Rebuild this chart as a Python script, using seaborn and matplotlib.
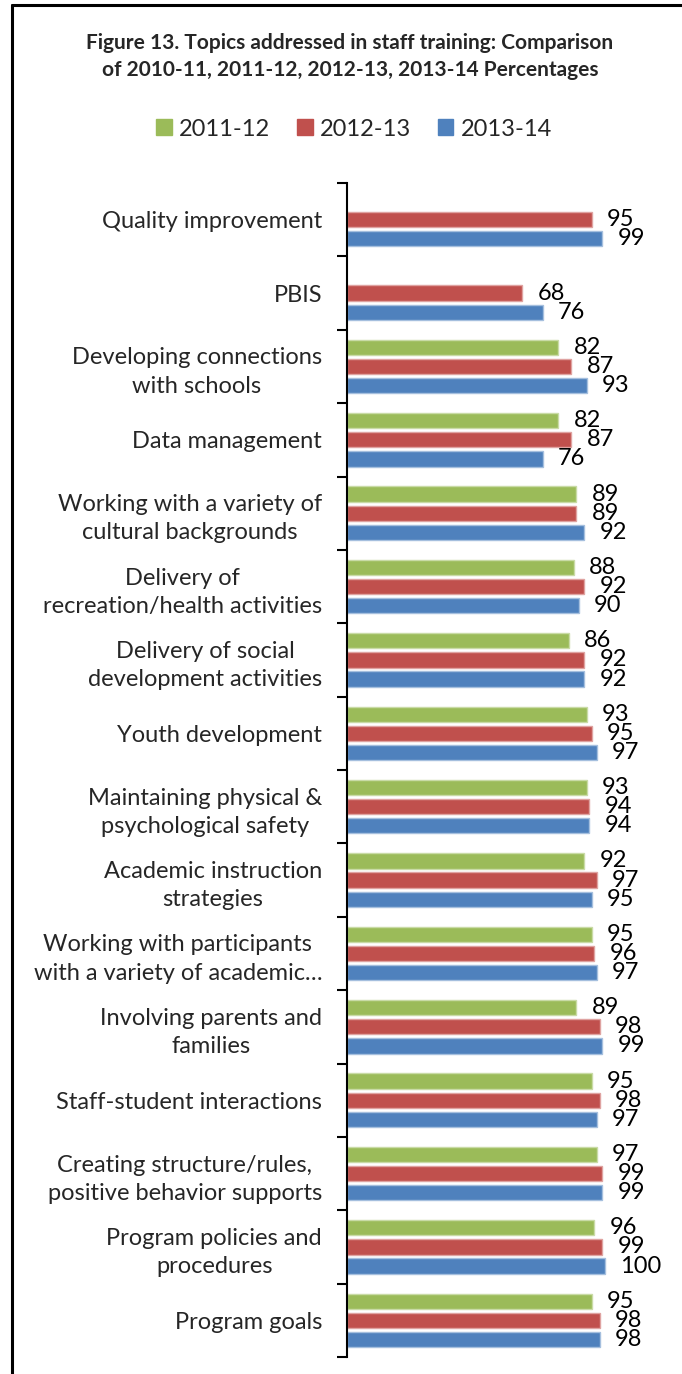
import numpy as np
import pandas as pd
import matplotlib
matplotlib.use("Agg")
import matplotlib.pyplot as plt
from matplotlib.lines import Line2D
import seaborn as sns

# Topics and percentages per program year
topics = [
    "Quality improvement",
    "PBIS",
    "Developing connections\nwith schools",
    "Data management",
    "Working with a variety of\ncultural backgrounds",
    "Delivery of\nrecreation/health activities",
    "Delivery of social\ndevelopment activities",
    "Youth development",
    "Maintaining physical &\npsychological safety",
    "Academic instruction\nstrategies",
    "Working with participants\nwith a variety of academic\u2026",
    "Involving parents and\nfamilies",
    "Staff-student interactions",
    "Creating structure/rules,\npositive behavior supports",
    "Program policies and\nprocedures",
    "Program goals",
]
years = ["2011-12", "2012-13", "2013-14"]
pct_2011_12 = [np.nan, np.nan, 82, 82, 89, 88, 86, 93, 93, 92, 95, 89, 95, 97, 96, 95]
pct_2012_13 = [95, 68, 87, 87, 89, 92, 92, 95, 94, 97, 96, 98, 98, 99, 99, 98]
pct_2013_14 = [99, 76, 93, 76, 92, 90, 92, 97, 94, 95, 97, 99, 97, 99, 100, 98]
colors = ["#9BBB59", "#C0504D", "#4F81BD"]
edge_colors = ["#C9DBA6", "#DFA3A1", "#A5BFDE"]

df = pd.DataFrame({
    "topic": topics * 3,
    "year": np.repeat(years, len(topics)),
    "pct": pct_2011_12 + pct_2012_13 + pct_2013_14,
}).dropna()

sns.set_theme(style="white")
plt.rcParams["font.family"] = ["Lato", "DejaVu Sans"]

W, H = 682, 1374
fig = plt.figure(figsize=(W / 100, H / 100), dpi=100)
ax_left, ax_top, ax_bottom = 347 / W, 1 - 183 / H, 1 - 1357 / H
ax = fig.add_axes([ax_left, ax_bottom, 1 - ax_left, ax_top - ax_bottom])

sns.barplot(
    data=df, x="pct", y="topic", hue="year", order=topics, hue_order=years,
    palette=colors, orient="h", width=0.78, gap=0.2, saturation=1,
    errorbar=None, legend=True, ax=ax,
)

for cont, ec in zip(ax.containers, edge_colors):
    for bar in cont:
        bar.set_edgecolor(ec)
        bar.set_linewidth(1.0)
    ax.bar_label(cont, fmt="%g", padding=11, fontsize=17, color="black")

ax.set_xlim(0, 130)
ax.set_ylim(len(topics) - 0.5, -0.5)
ax.set_xlabel("")
ax.set_ylabel("")
ax.set_xticks([])

# Category labels on major ticks, tick marks between categories
ax.set_yticks(range(len(topics)))
ax.set_yticklabels(topics, fontsize=17, multialignment="center", linespacing=1.42)
ax.tick_params(axis="y", which="major", length=0, pad=18)
ax.set_yticks(np.arange(-0.5, len(topics)), minor=True)
ax.tick_params(axis="y", which="minor", length=7, width=1.5, color="black", left=True)

for s in ["top", "right", "bottom"]:
    ax.spines[s].set_visible(False)
ax.spines["left"].set_color("black")
ax.spines["left"].set_linewidth(1.5)

handles, labels = ax.get_legend_handles_labels()
ax.get_legend().remove()
for h, c in zip(handles, colors):
    h.set_edgecolor(c)
fig.legend(
    handles, labels, loc="center", bbox_to_anchor=(354 / W, 1 - 129 / H),
    ncol=3, frameon=False, fontsize=17, handlelength=0.66, handleheight=0.66,
    handletextpad=0.3, columnspacing=1.14, borderpad=0, borderaxespad=0,
)

fig.text(
    350 / W, 1 - 56.5 / H,
    "Figure 13. Topics addressed in staff training: Comparison\n"
    "of 2010-11, 2011-12, 2012-13, 2013-14 Percentages",
    ha="center", va="center", fontsize=15, fontweight="bold",
    linespacing=1.45,
)

# Outer frame along the top and left edges
fig.add_artist(Line2D([11.5 / W, 11.5 / W], [0, 1 - 5 / H], transform=fig.transFigure,
                      color="black", linewidth=2.2))
fig.add_artist(Line2D([11.5 / W, 1], [1 - 5 / H, 1 - 5 / H], transform=fig.transFigure,
                      color="black", linewidth=2.2))

fig.savefig("out.png", dpi=100)
